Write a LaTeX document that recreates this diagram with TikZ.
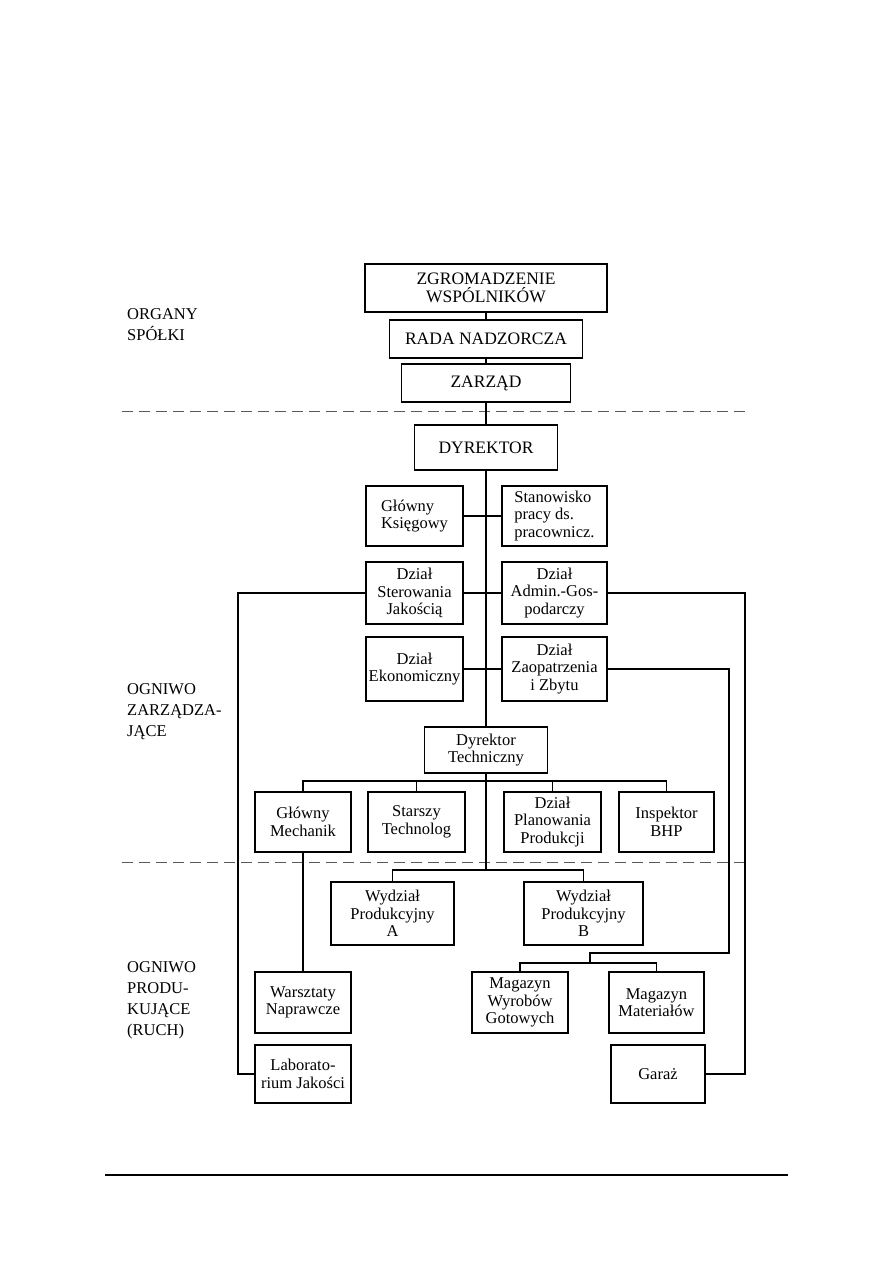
\documentclass[tikz,border=0pt]{standalone}
\usepackage{fontspec}
\setmainfont{Liberation Serif}
\begin{document}
\begin{tikzpicture}[x=1pt,y=-1pt,
  box/.style={draw, line width=1.3pt, inner sep=0pt, align=center, font=\fontsize{16.5}{17.5}\selectfont},
  capbox/.style={box, font=\fontsize{17.5}{18.5}\selectfont},
  lbox/.style={box, align=left},
  sbox/.style={box, minimum width=97, minimum height=60},
  conn/.style={line width=1.1pt},
  sepline/.style={line width=0.9pt, black!65, dash pattern=on 11pt off 6pt},
  sidelabel/.style={anchor=north west, inner sep=0pt, align=left, font=\fontsize{16.5}{21}\selectfont}]
\useasboundingbox (0,0) rectangle (893,1263);

% separators
\coordinate (sepAl) at (122,411); \coordinate (sepAr) at (745,411);
\coordinate (sepBl) at (122,862); \coordinate (sepBr) at (745,862);
\draw[sepline] (sepAl) -- (sepAr);
\draw[sepline] (sepBl) -- (sepBr);
\coordinate (footl) at (105,1175); \coordinate (footr) at (788,1175);
\draw[line width=1.6pt] (footl) -- (footr);

% side labels
\node[sidelabel] (lorg) at (127,308) {ORGANY\\SPÓŁKI};
\node[sidelabel] (lzarz) at (127,683) {OGNIWO\\ZARZĄDZA-\\JĄCE};
\node[sidelabel] (lprod) at (127,961) {OGNIWO\\PRODU-\\KUJĄCE\\(RUCH)};

% top boxes
\node[capbox, minimum width=242, minimum height=48] (zgr) at (486,288) {ZGROMADZENIE\\WSPÓLNIKÓW};
\node[capbox, minimum width=193, minimum height=38] (rada) at (486,339) {RADA NADZORCZA};
\node[capbox, minimum width=169, minimum height=38] (zarzad) at (486,383) {ZARZĄD};
\node[capbox, minimum width=143, minimum height=45] (dyr) at (486,447.5) {DYREKTOR};

% staff boxes
\node[lbox, minimum width=97, minimum height=60] (gk) at (414.5,516) {Główny\\Księgowy};
\node[lbox, minimum width=105, minimum height=60] (stan) at (554.5,516) {Stanowisko\\pracy ds.\\pracownicz.};
\node[box, minimum width=97, minimum height=62] (dsj) at (414.5,593) {Dział\\Sterowania\\Jakością};
\node[box, minimum width=105, minimum height=62] (dag) at (554.5,593) {Dział\\Admin.-Gos-\\podarczy};
\node[box, minimum width=97, minimum height=64] (dek) at (414.5,669) {Dział\\Ekonomiczny};
\node[box, minimum width=105, minimum height=64] (dzz) at (554.5,669) {Dział\\Zaopatrzenia\\i Zbytu};

\node[box, minimum width=123, minimum height=46] (dt) at (486,750) {Dyrektor\\Techniczny};

\node[sbox, minimum width=96] (gm) at (303,822) {Główny\\Mechanik};
\node[sbox] (st) at (416.5,822) {Starszy\\Technolog};
\node[sbox] (dpp) at (552.5,822) {Dział\\Planowania\\Produkcji};
\node[sbox, minimum width=95] (bhp) at (666.5,822) {Inspektor\\BHP};

\node[box, minimum width=123, minimum height=63] (wpa) at (392.5,913.5) {Wydział\\Produkcyjny\\A};
\node[box, minimum width=119, minimum height=63] (wpb) at (583.5,913.5) {Wydział\\Produkcyjny\\B};

\node[box, minimum width=96, minimum height=61] (wn) at (303,1002.5) {Warsztaty\\Naprawcze};
\node[box, minimum width=96, minimum height=61] (mwg) at (520,1002.5) {Magazyn\\Wyrobów\\Gotowych};
\node[box, minimum width=95, minimum height=61] (mm) at (656.5,1002.5) {Magazyn\\Materiałów};
\node[box, minimum width=96, minimum height=58] (lab) at (303,1074) {Laborato-\\rium Jakości};
\node[box, minimum width=94, minimum height=58] (gar) at (658,1074) {Garaż};

% rails and junctions
\coordinate (lrail) at (238,0);
\coordinate (rrail) at (745,0);
\coordinate (irail) at (729,0);
\coordinate (jog) at (590,953);
\coordinate (mbus) at (590,963);
\coordinate (tbus) at (486,781);
\coordinate (wbus) at (486,870);

% connectors
\draw[conn] (zgr.south) -- (rada.north);
\draw[conn] (rada.south) -- (zarzad.north);
\draw[conn] (zarzad.south) -- (dyr.north);
\draw[conn] (dyr.south) -- (dt.north);
\draw[conn] (gk.east) -- (stan.west);
\draw[conn] (dsj.east) -- (dag.west);
\draw[conn] (dek.east) -- (dzz.west);
\draw[conn] (dsj.west) -| (lrail |- lab.west) -- (lab.west);
\draw[conn] (dag.east) -| (rrail |- gar.east) -- (gar.east);
\draw[conn] (dzz.east) -| (irail |- jog) -- (jog) -- (mbus);
\draw[conn] (mbus) -| (mwg.north);
\draw[conn] (mbus) -| (mm.north);
\draw[conn] (dt.south) -- (wbus);
\draw[conn] (tbus) -| (gm.north);
\draw[conn] (tbus) -| (st.north);
\draw[conn] (tbus) -| (dpp.north);
\draw[conn] (tbus) -| (bhp.north);
\draw[conn] (wbus) -| (wpa.north);
\draw[conn] (wbus) -| (wpb.north);
\draw[conn] (gm.south) -- (wn.north);
\end{tikzpicture}
\end{document}
